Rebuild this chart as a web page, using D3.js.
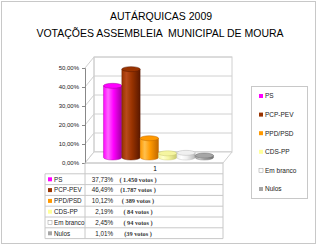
<!DOCTYPE html>
<html>
<head>
<meta charset="utf-8">
<script src="https://cdnjs.cloudflare.com/ajax/libs/d3/7.8.5/d3.min.js"></script>
<style>
  body { margin: 0; background: #fff; }
  text { font-family: "Liberation Sans", Arial, sans-serif; }
</style>
</head>
<body>
<div id="chart"></div>
<script>
var width = 320,
    height = 247

// data
var parties = ["PS", "PCP-PEV", "PPD/PSD", "CDS-PP", "Em branco", "Nulos"]
var shares = [0.3773, 0.4649, 0.1012, 0.0219, 0.0245, 0.0101]
var voteLabels = ["( 1.450 votos )", "(1.787 votos )", "( 389 votos )", "( 84 votos )", "( 94 votos )", "(39 votos )"]
var shareLabels = ["37,73%", "46,49%", "10,12%", "2,19%", "2,45%", "1,01%"]
var yTicks = [0, 0.1, 0.2, 0.3, 0.4, 0.5]
var category = ["1"]

// colours: [light, base, dark]
var colors = {
  "PS": ["#ff66ff", "#ff00ff", "#a000a0"],
  "PCP-PEV": ["#b84a1a", "#993300", "#5a1800"],
  "PPD/PSD": ["#ffc04d", "#ff9900", "#c06800"],
  "CDS-PP": ["#ffffcc", "#f5f5a0", "#c8c870"],
  "Em branco": ["#ffffff", "#f0f0f0", "#b8b8b8"],
  "Nulos": ["#cccccc", "#a6a6a6", "#707070"]
}
var swatch = {"PS": "#ff00ff", "PCP-PEV": "#993300", "PPD/PSD": "#ff9900", "CDS-PP": "#ffff99", "Em branco": "#ffffff", "Nulos": "#a6a6a6"}

var svg = d3.select("#chart").append("svg")
    .attr("width", width)
    .attr("height", height)

// outer frame
svg.append("rect")
    .attr("x", 1.5).attr("y", 1.5)
    .attr("width", 314).attr("height", 242)
    .attr("fill", "#fff").attr("stroke", "#c8c8c8")

// title
svg.append("text").attr("x", 161).attr("y", 20)
    .attr("text-anchor", "middle").style("font-size", "10.5px")
    .text("AUTÁRQUICAS 2009")
svg.append("text").attr("x", 160).attr("y", 37)
    .attr("text-anchor", "middle").style("font-size", "10.5px").style("white-space", "pre")
    .text("VOTAÇÕES ASSEMBLEIA  MUNICIPAL DE MOURA")

// 3d geometry
var left = 85, right = 223
var dx = 9, dy = -11
var y = d3.scaleLinear().domain([0, 0.5]).range([163, 68])
var x0 = d3.scaleBand().domain(category).range([left, right]).paddingOuter(0.127)
var x1 = d3.scaleBand().domain(parties).range([x0("1"), x0("1") + x0.bandwidth()])

var grid = "#d0d0d0"

// back wall
svg.append("rect")
    .attr("x", left + dx).attr("y", y(0.5) + dy)
    .attr("width", right - left).attr("height", y(0) - y(0.5))
    .attr("fill", "#fff").attr("stroke", grid)
svg.selectAll(".gridb").data(yTicks).enter().append("line")
    .attr("x1", left + dx).attr("x2", right + dx)
    .attr("y1", function(d) { return y(d) + dy }).attr("y2", function(d) { return y(d) + dy })
    .attr("stroke", grid)
// side wall
svg.selectAll(".grids").data(yTicks).enter().append("line")
    .attr("x1", left).attr("x2", left + dx)
    .attr("y1", function(d) { return y(d) }).attr("y2", function(d) { return y(d) + dy })
    .attr("stroke", grid)
svg.append("line").attr("x1", left + dx).attr("x2", left + dx)
    .attr("y1", y(0.5) + dy).attr("y2", y(0) + dy).attr("stroke", grid)
// floor
svg.append("path")
    .attr("d", "M" + left + "," + y(0) + "L" + (left + dx) + "," + (y(0) + dy) +
      "L" + (right + dx) + "," + (y(0) + dy) + "L" + right + "," + y(0) + "Z")
    .attr("fill", "#fff").attr("stroke", grid)

// y axis
var yAxis = d3.axisLeft(y).tickValues(yTicks).tickSize(3)
    .tickFormat(function(d) { return d3.format(".2f")(d * 100).replace(".", ",") + "%" })
var ya = svg.append("g").attr("transform", "translate(" + left + ",0)").call(yAxis)
ya.select(".domain").attr("stroke", "#888")
ya.selectAll(".tick line").attr("stroke", "#888")
ya.selectAll("text").style("font-size", "6px").attr("fill", "#222")
    .style("font-family", "Liberation Sans, Arial, sans-serif")

// gradients
var defs = svg.append("defs")
parties.forEach(function(p, i) {
  var g = defs.append("linearGradient").attr("id", "g" + i)
      .attr("x1", "0%").attr("x2", "100%").attr("y1", "0%").attr("y2", "0%")
  g.append("stop").attr("offset", "0%").attr("stop-color", colors[p][1])
  g.append("stop").attr("offset", "25%").attr("stop-color", colors[p][0])
  g.append("stop").attr("offset", "55%").attr("stop-color", colors[p][1])
  g.append("stop").attr("offset", "100%").attr("stop-color", colors[p][2])
})

// cylinders (placed at mid depth)
var ry = 2.5
var bars = svg.selectAll(".bar").data(parties).enter().append("g")
bars.append("path")
    .attr("d", function(p, i) {
      var xa = x1(p) + dx / 2, xb = xa + x1.bandwidth()
      var yt = y(shares[i]) + dy / 2, yb = y(0) + dy / 2
      var rx = (xb - xa) / 2
      return "M" + xa + "," + yt + "L" + xa + "," + yb +
        "A" + rx + "," + ry + " 0 0 0 " + xb + "," + yb +
        "L" + xb + "," + yt + "Z"
    })
    .attr("fill", function(p, i) { return "url(#g" + i + ")" })
    .attr("stroke", function(p) { return colors[p][2] }).attr("stroke-width", 0.4)
bars.append("ellipse")
    .attr("cx", function(p) { return x1(p) + dx / 2 + x1.bandwidth() / 2 })
    .attr("cy", function(p, i) { return y(shares[i]) + dy / 2 })
    .attr("rx", x1.bandwidth() / 2).attr("ry", ry)
    .attr("fill", function(p) { return colors[p][1] })
    .attr("stroke", function(p) { return colors[p][2] }).attr("stroke-width", 0.5)

// data table
var tTop = y(0), rowH = 10.8, tLeft = 45
var line = "#c8c8c8"
svg.append("line").attr("x1", left).attr("x2", right).attr("y1", tTop).attr("y2", tTop).attr("stroke", line)
svg.append("text").attr("x", x0("1") + x0.bandwidth() / 2 + 1).attr("y", tTop + 8)
    .attr("text-anchor", "middle").style("font-size", "6.5px").text("1")
d3.range(parties.length + 1).forEach(function(r) {
  var yy = tTop + rowH * (r + 1)
  svg.append("line").attr("x1", tLeft).attr("x2", right).attr("y1", yy).attr("y2", yy).attr("stroke", line)
})
svg.append("line").attr("x1", left).attr("x2", left).attr("y1", tTop).attr("y2", tTop + rowH * 7).attr("stroke", line)
svg.append("line").attr("x1", right).attr("x2", right).attr("y1", tTop).attr("y2", tTop + rowH * 7).attr("stroke", line)
svg.append("line").attr("x1", tLeft).attr("x2", tLeft).attr("y1", tTop + rowH).attr("y2", tTop + rowH * 7).attr("stroke", line)
var rows = svg.selectAll(".row").data(parties).enter().append("g")
    .attr("transform", function(p, i) { return "translate(0," + (tTop + rowH * (i + 1)) + ")" })
rows.append("rect").attr("x", 48).attr("y", 3.5).attr("width", 4).attr("height", 4)
    .attr("fill", function(p) { return swatch[p] }).attr("stroke", function(p) { return p == "Em branco" ? "#999" : "none" }).attr("stroke-width", 0.5)
rows.append("text").attr("x", 54).attr("y", 7.8).style("font-size", "6.3px").attr("fill", "#222")
    .text(function(p) { return p })
rows.append("text").attr("x", 113).attr("y", 7.8).attr("text-anchor", "end").style("font-size", "6.3px").attr("fill", "#222")
    .text(function(p, i) { return shareLabels[i] })
rows.append("text").attr("x", 138).attr("y", 7.8).attr("text-anchor", "middle")
    .style("font-size", "6.3px").style("font-family", "Liberation Serif, serif").style("font-weight", "bold").attr("fill", "#333")
    .text(function(p, i) { return voteLabels[i] })

// legend
svg.append("rect").attr("x", 251.5).attr("y", 86.5).attr("width", 56).attr("height", 112)
    .attr("fill", "#fff").attr("stroke", "#c8c8c8")
var leg = svg.selectAll(".leg").data(parties).enter().append("g")
    .attr("transform", function(p, i) { return "translate(259," + (96 + i * 18.6) + ")" })
leg.append("rect").attr("x", 0).attr("y", -2).attr("width", 4).attr("height", 4)
    .attr("fill", function(p) { return swatch[p] }).attr("stroke", function(p) { return p == "Em branco" ? "#999" : "none" }).attr("stroke-width", 0.5)
leg.append("text").attr("x", 6).attr("y", 2.3).style("font-size", "6.5px").attr("fill", "#222")
    .text(function(p) { return p })
</script>
</body>
</html>
